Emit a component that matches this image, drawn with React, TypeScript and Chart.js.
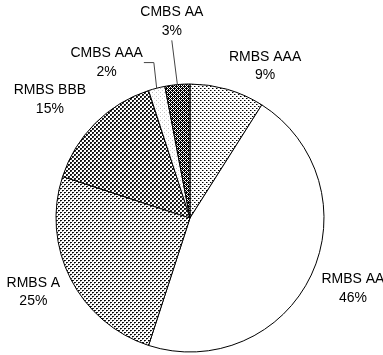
import React, { useEffect, useRef } from "react";
import { Chart, registerables } from "chart.js";

Chart.register(...registerables);

// ---- data ----
const categories = ["RMBS AAA", "RMBS AA", "RMBS A", "RMBS BBB", "CMBS AAA", "CMBS AA"];
const shares = [9, 46, 25, 15, 2, 3];
const percentLabels = ["9%", "46%", "25%", "15%", "2%", "3%"];

// ---- label layout (polar, degrees clockwise from 12 o'clock; distance as multiple of radius) ----
const labelAngles = [26.3, 113.4, 244.7, 310.2, 331.8, 354.7];
const labelDistances = [1.265, 1.325, 1.293, 1.369, 1.316, 1.47];
const leaderKinds = ["", "", "", "", "elbow", "straight"];
const patternKinds = ["sparseDots", "white", "denseDots", "checker", "faintDots", "diamond"];

function makePattern(kind: string): CanvasPattern | string {
  if (kind === "white") return "#ffffff";
  const c = document.createElement("canvas");
  c.width = 4;
  c.height = 4;
  const g = c.getContext("2d")!;
  g.fillStyle = "#ffffff";
  g.fillRect(0, 0, 4, 4);
  const px = (x: number, y: number, col: string) => {
    g.fillStyle = col;
    g.fillRect(x, y, 1, 1);
  };
  if (kind === "sparseDots") {
    px(0, 0, "#000");
    px(2, 2, "#000");
    px(1, 0, "#888");
    px(3, 2, "#888");
  } else if (kind === "denseDots") {
    px(0, 0, "#000");
    px(1, 0, "#222");
    px(2, 2, "#000");
    px(3, 2, "#222");
    px(0, 1, "#999");
    px(2, 3, "#999");
  } else if (kind === "checker") {
    for (let x = 0; x < 4; x++)
      for (let y = 0; y < 4; y++) {
        if ((x < 2 && y < 2) || (x >= 2 && y >= 2)) px(x, y, "#111");
      }
    px(1, 1, "#555");
    px(3, 3, "#555");
  } else if (kind === "faintDots") {
    px(0, 0, "#bbb");
    px(2, 2, "#ccc");
  } else if (kind === "diamond") {
    for (let x = 0; x < 4; x++)
      for (let y = 0; y < 4; y++) {
        if ((x + y) % 4 !== 0 && (x - y + 8) % 4 !== 0) px(x, y, "#000");
      }
  }
  return g.createPattern(c, "repeat")!;
}

const FONT = "14px 'Liberation Sans', Arial, sans-serif";
const LINE_GAP = 18.5;

const labelPlugin = {
  id: "pieLabels",
  afterDatasetsDraw(chart: any) {
    const meta = chart.getDatasetMeta(0);
    const ctx: CanvasRenderingContext2D = chart.ctx;
    ctx.save();
    ctx.font = FONT;
    ctx.textAlign = "center";
    ctx.textBaseline = "middle";
    meta.data.forEach((arc: any, i: number) => {
      const p = arc.getProps(["x", "y", "startAngle", "endAngle", "outerRadius"], true);
      const a = ((labelAngles[i] - 90) * Math.PI) / 180;
      const d = labelDistances[i] * p.outerRadius;
      const lx = p.x + Math.cos(a) * d;
      const ly = p.y + Math.sin(a) * d;
      const mid = (p.startAngle + p.endAngle) / 2;
      const ex = p.x + Math.cos(mid) * p.outerRadius;
      const ey = p.y + Math.sin(mid) * p.outerRadius;
      ctx.strokeStyle = "#444";
      ctx.lineWidth = 1;
      if (leaderKinds[i] === "straight") {
        ctx.beginPath();
        ctx.moveTo(ex, ey);
        ctx.lineTo(lx, ly + LINE_GAP);
        ctx.stroke();
      } else if (leaderKinds[i] === "elbow") {
        const w = ctx.measureText(categories[i]).width;
        const right = lx + w / 2 + 1;
        ctx.beginPath();
        ctx.moveTo(ex, ey);
        ctx.lineTo(right + 10, ly);
        ctx.lineTo(right, ly);
        ctx.stroke();
      }
      ctx.fillStyle = "#000";
      ctx.fillText(categories[i], lx, ly - LINE_GAP / 2);
      ctx.fillText(percentLabels[i], lx, ly + LINE_GAP / 2);
    });
    ctx.restore();
  },
};

export default function App() {
  const ref = useRef<HTMLCanvasElement | null>(null);
  useEffect(() => {
    const canvas = ref.current!;
    const chart = new Chart(canvas, {
      type: "pie",
      data: {
        labels: categories,
        datasets: [
          {
            data: shares,
            backgroundColor: patternKinds.map(makePattern) as any,
            borderColor: "#000",
            borderWidth: 1,
          },
        ],
      },
      options: {
        animation: false,
        responsive: false,
        radius: 134,
        rotation: 0,
        layout: { padding: { top: 84, bottom: 3, left: 56, right: 59 } },
        plugins: {
          legend: { display: false },
          tooltip: { enabled: false },
        },
      } as any,
      plugins: [labelPlugin],
    });
    return () => chart.destroy();
  }, []);
  return (
    <div style={{ position: "fixed", left: 0, top: 0, width: 383, height: 355, background: "#fff" }}>
      <canvas ref={ref} width={383} height={355} style={{ width: 383, height: 355, display: "block" }} />
    </div>
  );
}
